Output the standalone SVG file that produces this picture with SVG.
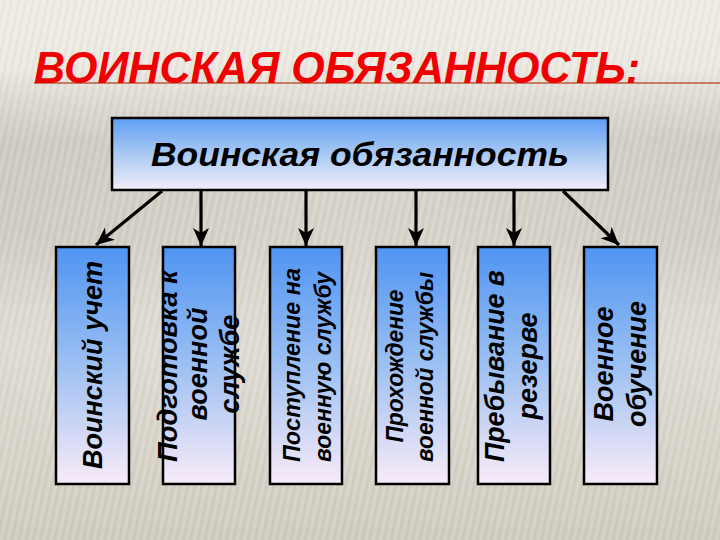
<svg xmlns="http://www.w3.org/2000/svg" width="720" height="540" viewBox="0 0 720 540">
  <defs>
    <linearGradient id="bg" x1="0" y1="0" x2="0" y2="1">
      <stop offset="0" stop-color="#efece5"/>
      <stop offset="0.12" stop-color="#ece9e1"/>
      <stop offset="0.26" stop-color="#d7d3ca"/>
      <stop offset="0.42" stop-color="#d9d5cc"/>
      <stop offset="0.65" stop-color="#dfdbd2"/>
      <stop offset="1" stop-color="#cfcbbf"/>
    </linearGradient>
    <linearGradient id="band" x1="0" y1="0" x2="1" y2="0">
      <stop offset="0" stop-color="#b9b4aa" stop-opacity="0.3"/>
      <stop offset="0.5" stop-color="#b9b4aa" stop-opacity="0.05"/>
      <stop offset="1" stop-color="#b9b4aa" stop-opacity="0.25"/>
    </linearGradient>
    <linearGradient id="fadev" x1="0" y1="0" x2="0" y2="1">
      <stop offset="0" stop-color="#fff" stop-opacity="0"/>
      <stop offset="0.3" stop-color="#fff" stop-opacity="1"/>
      <stop offset="0.7" stop-color="#fff" stop-opacity="1"/>
      <stop offset="1" stop-color="#fff" stop-opacity="0"/>
    </linearGradient>
    <mask id="bandmask">
      <rect x="0" y="70" width="720" height="240" fill="url(#fadev)"/>
    </mask>
    <pattern id="stripes" width="7" height="40" patternUnits="userSpaceOnUse" patternTransform="rotate(12)">
      <rect x="0" y="0" width="3" height="40" fill="#ffffff" opacity="0.12"/>
      <rect x="3.5" y="0" width="2" height="40" fill="#8a8478" opacity="0.08"/>
    </pattern>
    <linearGradient id="boxfill" x1="0" y1="0" x2="0" y2="1">
      <stop offset="0" stop-color="#4f94f2"/>
      <stop offset="0.5" stop-color="#9dc0f2"/>
      <stop offset="1" stop-color="#f9ebf8"/>
    </linearGradient>
    <linearGradient id="topfill" x1="0" y1="0" x2="0" y2="1">
      <stop offset="0" stop-color="#5f9ef4"/>
      <stop offset="0.5" stop-color="#a9c9f3"/>
      <stop offset="1" stop-color="#f2eef9"/>
    </linearGradient>
    <marker id="arr" viewBox="-1 -9 20 18" refX="18" refY="0" markerWidth="20" markerHeight="18" markerUnits="userSpaceOnUse" orient="auto">
      <path d="M18 0 L0 -8 L5 0 L0 8 Z" fill="#000"/>
    </marker>
    <style>
      .box { fill: url(#boxfill); stroke: #000; stroke-width: 2.5; }
      .top { fill: url(#topfill); stroke: #000; stroke-width: 2.5; }
      .lbl { font-family: "Liberation Sans", Arial, sans-serif; font-weight: bold; font-style: italic; fill: #000; text-anchor: middle; }
      .conn line { stroke: #000; stroke-width: 3.2; marker-end: url(#arr); }
    </style>
  </defs>

  <rect x="0" y="0" width="720" height="540" fill="url(#bg)"/>
  <rect x="0" y="70" width="720" height="240" fill="url(#band)" mask="url(#bandmask)"/>
  <rect x="0" y="0" width="720" height="540" fill="url(#stripes)"/>

  <g id="title">
    <line x1="34" y1="83" x2="720" y2="83" stroke="#b95a3a" stroke-width="1.6"/>
    <text x="34" y="83" font-family="Liberation Sans, Arial, sans-serif" font-weight="bold" font-style="italic" font-size="44" fill="#f00000" textLength="606" lengthAdjust="spacingAndGlyphs">ВОИНСКАЯ ОБЯЗАННОСТЬ:</text>
  </g>

  <g id="root">
    <rect class="top" x="112" y="118" width="496" height="72"/>
    <text class="lbl" x="360" y="166" font-size="33" textLength="418" lengthAdjust="spacingAndGlyphs">Воинская обязанность</text>
  </g>

  <g id="connectors" class="conn">
    <line x1="162" y1="191" x2="96" y2="245"/>
    <line x1="201" y1="191" x2="201" y2="246"/>
    <line x1="306" y1="191" x2="306" y2="246"/>
    <line x1="416" y1="191" x2="416" y2="246"/>
    <line x1="514" y1="191" x2="514" y2="246"/>
    <line x1="563" y1="191" x2="619" y2="245"/>
  </g>

  <g id="n1">
    <rect class="box" x="56" y="247" width="73" height="237"/>
    <text class="lbl" font-size="28" transform="translate(102,365) rotate(-90)" textLength="208" lengthAdjust="spacingAndGlyphs">Воинский учет</text>
  </g>

  <g id="n2">
    <rect class="box" x="163" y="247" width="72" height="237"/>
    <text class="lbl" font-size="27" transform="translate(177,366) rotate(-90)" textLength="192" lengthAdjust="spacingAndGlyphs">Подготовка к</text>
    <text class="lbl" font-size="27" transform="translate(207,364) rotate(-90)">военной</text>
    <text class="lbl" font-size="27" transform="translate(239,364) rotate(-90)">службе</text>
  </g>

  <g id="n3">
    <rect class="box" x="270" y="247" width="72" height="237"/>
    <text class="lbl" font-size="24" transform="translate(300,365) rotate(-90)" textLength="194" lengthAdjust="spacingAndGlyphs">Поступление на</text>
    <text class="lbl" font-size="24" transform="translate(331,367) rotate(-90)" textLength="190" lengthAdjust="spacingAndGlyphs">военную службу</text>
  </g>

  <g id="n4">
    <rect class="box" x="376" y="247" width="73" height="237"/>
    <text class="lbl" font-size="24" transform="translate(403,366) rotate(-90)" textLength="153" lengthAdjust="spacingAndGlyphs">Прохождение</text>
    <text class="lbl" font-size="24" transform="translate(433,367) rotate(-90)" textLength="190" lengthAdjust="spacingAndGlyphs">военной службы</text>
  </g>

  <g id="n5">
    <rect class="box" x="478" y="247" width="72" height="237"/>
    <text class="lbl" font-size="27" transform="translate(504,366) rotate(-90)" textLength="192" lengthAdjust="spacingAndGlyphs">Пребывание в</text>
    <text class="lbl" font-size="27" transform="translate(537,366) rotate(-90)">резерве</text>
  </g>

  <g id="n6">
    <rect class="box" x="584" y="247" width="73" height="237"/>
    <text class="lbl" font-size="27" transform="translate(613,364) rotate(-90)">Военное</text>
    <text class="lbl" font-size="27" transform="translate(646,364) rotate(-90)">обучение</text>
  </g>
</svg>
